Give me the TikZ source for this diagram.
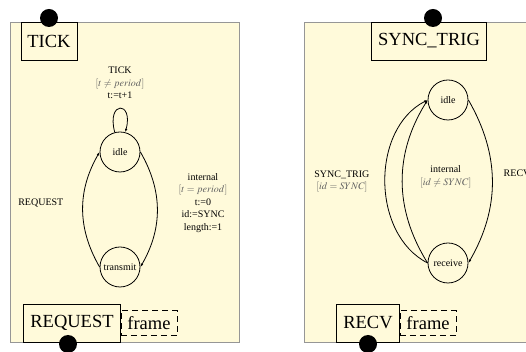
\documentclass[tikz,border=0pt]{standalone}
\usepackage{mathptmx}
\usepackage{fontspec}
\setmainfont{Liberation Serif}
\usetikzlibrary{arrows.meta, positioning}

\definecolor{panelfill}{RGB}{255,250,218}
\definecolor{panelline}{RGB}{150,150,150}
\definecolor{guardtext}{RGB}{95,95,95}

\begin{document}
\begin{tikzpicture}[
    x=1pt, y=1pt, line width=0.8pt,
    panel/.style={draw=panelline, fill=panelfill},
    state/.style={circle, draw, fill=panelfill, minimum size=40pt, inner sep=0pt, font=\fontsize{10}{12}\selectfont},
    iface/.style={rectangle, draw, fill=panelfill, minimum height=38pt, inner xsep=6.5pt, font=\fontsize{18.5}{22}\selectfont},
    payload/.style={rectangle, draw, dash pattern=on 6pt off 4pt, fill=panelfill, minimum height=25pt, inner xsep=6.5pt, font=\fontsize{18.5}{22}\selectfont},
    port/.style={circle, fill=black, minimum size=18pt, inner sep=0pt},
    trans/.style={font=\fontsize{10}{12.5}\selectfont, align=center},
    arrow/.style={-{Latex[length=3.5pt,width=2.5pt]}}
]
\useasboundingbox (0,0) rectangle (526,352);

\draw[panel] (10,10) rectangle (239,330);
\draw[panel] (304,10) rectangle (580,330);

\node[iface] (tick) at (49,311) {TICK};
\node[state] (idleA) at (120,200) {idle};
\node[state] (transmit) at (120,85) {transmit};
\node[iface] (request) at (72,29) {REQUEST};
\node[payload, right=0pt of request] (frameA) {frame};
\node[port] (tickport) at (49,334) {};
\node[port] (requestport) at (68,8) {};

\node[iface] (synctrig) at (429,311) {SYNC\_TRIG};
\node[state] (idleB) at (448,252) {idle};
\node[state] (receive) at (448,89) {receive};
\node[iface] (recv) at (368,29) {RECV};
\node[payload, right=0pt of recv] (frameB) {frame};
\node[port] (syncport) at (433,334) {};
\node[port] (recvport) at (368,8) {};

\draw[arrow] (idleA) to[loop above] node[trans, above=6pt] {TICK\\ \textcolor{guardtext}{$[t \neq period]$}\\ t:=t+1} ();
\draw[arrow] (transmit.west) to[bend left=30] node[trans, pos=0.56, left=16pt] {REQUEST} (idleA.west);
\draw[arrow] (idleA.east) to[bend left=30] node[trans, pos=0.44, right=18pt] {internal\\ \textcolor{guardtext}{$[t = period]$}\\ t:=0\\ id:=SYNC\\ length:=1} (transmit.east);

\draw[arrow] (receive.west) to[bend left=63] node[trans, left=12pt] {SYNC\_TRIG\\ \textcolor{guardtext}{$[id = SYNC]$}} (idleB.west);
\draw[arrow] (receive.west) to[bend left=32] node[trans, pos=0.53, right=14pt] {internal\\ \textcolor{guardtext}{$[id \neq SYNC]$}} (idleB.west);
\draw[arrow] (idleB.east) to[bend left=30] node[trans, pos=0.45, right=8pt] {RECV} (receive.east);
\end{tikzpicture}
\end{document}
